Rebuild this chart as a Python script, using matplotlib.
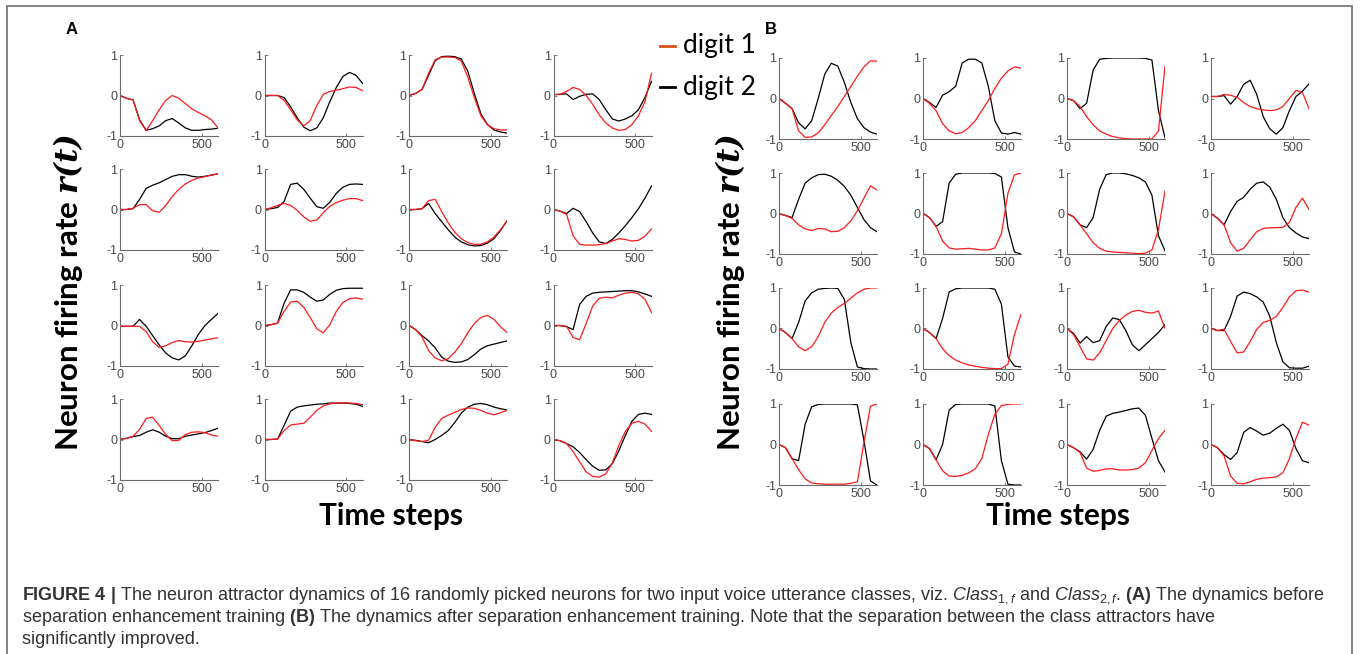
import matplotlib
matplotlib.use('Agg')
import matplotlib.pyplot as plt
from matplotlib import font_manager
from matplotlib.lines import Line2D
from matplotlib.patches import Rectangle

# time axis samples (every 40 steps)
steps = [0, 40, 80, 120, 160, 200, 240, 280, 320, 360, 400, 440, 480, 520, 560, 600]

# panel A (before training), 16 neurons row by row
a_digit1 = [
    [0.0, -0.07, -0.11, -0.62, -0.87, -0.62, -0.35, -0.12, 0.0, -0.07, -0.2, -0.33, -0.42, -0.5, -0.6, -0.8],
    [0.0, 0.0, 0.0, -0.12, -0.35, -0.6, -0.75, -0.62, -0.25, 0.03, 0.1, 0.13, 0.17, 0.21, 0.2, 0.12],
    [0.0, 0.05, 0.15, 0.55, 0.88, 0.95, 0.95, 0.94, 0.85, 0.45, -0.05, -0.5, -0.72, -0.82, -0.85, -0.85],
    [0.02, 0.03, 0.1, 0.2, 0.15, 0.0, -0.22, -0.48, -0.68, -0.8, -0.86, -0.84, -0.72, -0.5, -0.15, 0.55],
    [0.0, 0.0, 0.03, 0.12, 0.12, -0.03, -0.07, 0.1, 0.32, 0.5, 0.63, 0.72, 0.78, 0.81, 0.85, 0.88],
    [0.0, 0.04, 0.1, 0.15, 0.1, -0.02, -0.18, -0.29, -0.26, -0.08, 0.08, 0.17, 0.23, 0.27, 0.27, 0.22],
    [0.0, 0.0, 0.02, 0.22, 0.25, -0.05, -0.33, -0.56, -0.72, -0.82, -0.86, -0.86, -0.8, -0.68, -0.5, -0.28],
    [0.0, -0.04, -0.12, -0.65, -0.86, -0.88, -0.88, -0.87, -0.84, -0.78, -0.72, -0.74, -0.78, -0.76, -0.66, -0.48],
    [-0.02, -0.02, -0.02, -0.02, -0.15, -0.4, -0.54, -0.5, -0.42, -0.37, -0.4, -0.41, -0.39, -0.36, -0.33, -0.3],
    [0.0, 0.02, 0.06, 0.35, 0.58, 0.6, 0.45, 0.2, -0.08, -0.18, 0.02, 0.35, 0.57, 0.66, 0.68, 0.65],
    [0.0, -0.1, -0.28, -0.62, -0.8, -0.87, -0.82, -0.66, -0.45, -0.18, 0.05, 0.2, 0.25, 0.15, -0.03, -0.17],
    [0.0, 0.0, -0.02, -0.3, -0.35, 0.05, 0.48, 0.67, 0.7, 0.68, 0.75, 0.8, 0.82, 0.78, 0.65, 0.32],
    [0.0, 0.03, 0.08, 0.25, 0.52, 0.55, 0.35, 0.12, -0.03, -0.02, 0.12, 0.18, 0.19, 0.17, 0.11, 0.08],
    [0.0, 0.0, 0.01, 0.22, 0.36, 0.38, 0.4, 0.55, 0.72, 0.83, 0.88, 0.9, 0.91, 0.9, 0.89, 0.86],
    [0.0, -0.03, -0.05, -0.02, 0.3, 0.52, 0.6, 0.67, 0.74, 0.78, 0.77, 0.72, 0.65, 0.61, 0.66, 0.72],
    [0.0, -0.03, -0.1, -0.3, -0.55, -0.8, -0.91, -0.93, -0.85, -0.58, -0.15, 0.2, 0.4, 0.45, 0.38, 0.2],
]
a_digit2 = [
    [0.0, -0.07, -0.11, -0.6, -0.86, -0.82, -0.75, -0.62, -0.57, -0.68, -0.8, -0.86, -0.86, -0.84, -0.83, -0.81],
    [0.0, 0.0, 0.0, -0.05, -0.28, -0.55, -0.78, -0.87, -0.8, -0.55, -0.15, 0.2, 0.47, 0.57, 0.5, 0.3],
    [0.0, 0.05, 0.15, 0.5, 0.86, 0.96, 0.97, 0.96, 0.9, 0.6, 0.05, -0.45, -0.72, -0.85, -0.9, -0.93],
    [0.02, 0.03, 0.04, -0.1, -0.02, 0.03, 0.04, -0.1, -0.35, -0.58, -0.63, -0.58, -0.5, -0.35, -0.05, 0.35],
    [0.0, 0.0, 0.02, 0.25, 0.52, 0.6, 0.66, 0.74, 0.82, 0.86, 0.86, 0.82, 0.8, 0.82, 0.85, 0.88],
    [0.0, 0.02, 0.05, 0.2, 0.62, 0.65, 0.5, 0.28, 0.07, 0.03, 0.18, 0.4, 0.55, 0.62, 0.63, 0.62],
    [0.0, 0.0, 0.02, 0.15, -0.1, -0.3, -0.5, -0.68, -0.8, -0.87, -0.9, -0.89, -0.83, -0.72, -0.52, -0.28],
    [0.0, -0.04, -0.1, 0.03, -0.05, -0.3, -0.58, -0.8, -0.84, -0.74, -0.58, -0.4, -0.2, 0.02, 0.28, 0.58],
    [-0.02, -0.02, -0.02, 0.15, -0.02, -0.25, -0.48, -0.68, -0.8, -0.85, -0.75, -0.5, -0.22, 0.0, 0.15, 0.3],
    [0.0, 0.02, 0.06, 0.55, 0.88, 0.88, 0.82, 0.7, 0.6, 0.63, 0.77, 0.87, 0.91, 0.92, 0.92, 0.92],
    [0.0, -0.1, -0.25, -0.38, -0.55, -0.78, -0.88, -0.91, -0.9, -0.84, -0.72, -0.58, -0.5, -0.46, -0.42, -0.38],
    [0.0, 0.0, -0.03, -0.1, 0.52, 0.72, 0.8, 0.82, 0.83, 0.84, 0.85, 0.86, 0.86, 0.83, 0.78, 0.72],
    [0.0, 0.03, 0.07, 0.1, 0.18, 0.24, 0.18, 0.08, 0.02, 0.02, 0.08, 0.11, 0.14, 0.17, 0.22, 0.28],
    [0.0, 0.0, 0.01, 0.35, 0.7, 0.8, 0.83, 0.85, 0.87, 0.88, 0.9, 0.9, 0.9, 0.89, 0.87, 0.82],
    [0.0, -0.02, -0.05, -0.08, 0.0, 0.1, 0.22, 0.42, 0.65, 0.8, 0.87, 0.89, 0.86, 0.8, 0.76, 0.73],
    [0.0, -0.03, -0.1, -0.18, -0.32, -0.5, -0.66, -0.76, -0.75, -0.6, -0.28, 0.1, 0.45, 0.62, 0.65, 0.62],
]

# panel B (after training)
b_digit1 = [
    [0.0, -0.12, -0.25, -0.8, -0.96, -0.95, -0.85, -0.65, -0.42, -0.2, 0.05, 0.3, 0.55, 0.78, 0.93, 0.92],
    [0.0, -0.12, -0.3, -0.62, -0.8, -0.87, -0.84, -0.72, -0.55, -0.3, -0.05, 0.25, 0.5, 0.68, 0.78, 0.75],
    [0.0, -0.05, -0.2, -0.45, -0.65, -0.8, -0.88, -0.94, -0.97, -0.99, -1.0, -1.0, -1.0, -1.0, -0.8, 0.8],
    [0.05, 0.05, 0.1, 0.08, 0.03, -0.1, -0.2, -0.25, -0.28, -0.3, -0.28, -0.2, 0.0, 0.2, 0.15, -0.25],
    [0.0, -0.05, -0.12, -0.28, -0.38, -0.42, -0.37, -0.38, -0.45, -0.44, -0.35, -0.18, 0.07, 0.38, 0.68, 0.58],
    [0.0, -0.1, -0.32, -0.68, -0.85, -0.88, -0.87, -0.86, -0.88, -0.9, -0.9, -0.85, -0.5, 0.5, 0.95, 1.0],
    [0.0, -0.08, -0.28, -0.5, -0.72, -0.86, -0.93, -0.95, -0.96, -0.97, -0.98, -0.99, -0.98, -0.9, -0.4, 0.55],
    [0.0, -0.12, -0.28, -0.72, -0.93, -0.86, -0.65, -0.45, -0.37, -0.35, -0.35, -0.34, -0.22, 0.15, 0.38, 0.1],
    [0.0, -0.1, -0.25, -0.45, -0.55, -0.45, -0.2, 0.15, 0.38, 0.52, 0.62, 0.75, 0.88, 0.97, 1.0, 1.0],
    [0.0, -0.1, -0.25, -0.5, -0.67, -0.78, -0.85, -0.9, -0.93, -0.96, -0.98, -0.99, -0.99, -0.88, -0.15, 0.35],
    [0.0, -0.15, -0.45, -0.75, -0.78, -0.6, -0.3, 0.0, 0.2, 0.33, 0.42, 0.45, 0.4, 0.38, 0.43, 0.0],
    [0.0, -0.05, -0.02, -0.32, -0.6, -0.58, -0.32, -0.02, 0.15, 0.2, 0.3, 0.52, 0.78, 0.93, 0.95, 0.9],
    [0.0, -0.08, -0.35, -0.62, -0.85, -0.95, -0.97, -0.98, -0.98, -0.98, -0.98, -0.96, -0.92, 0.05, 0.95, 1.0],
    [0.0, -0.1, -0.38, -0.65, -0.78, -0.79, -0.76, -0.7, -0.6, -0.35, 0.25, 0.75, 0.96, 0.99, 1.0, 1.0],
    [0.0, -0.08, -0.2, -0.58, -0.66, -0.64, -0.6, -0.6, -0.63, -0.63, -0.62, -0.58, -0.45, -0.15, 0.15, 0.35],
    [0.0, -0.08, -0.28, -0.78, -0.96, -0.97, -0.92, -0.86, -0.83, -0.82, -0.8, -0.7, -0.35, 0.15, 0.55, 0.48],
]
b_digit2 = [
    [0.0, -0.12, -0.25, -0.6, -0.75, -0.55, 0.0, 0.6, 0.87, 0.8, 0.4, -0.1, -0.5, -0.72, -0.83, -0.88],
    [0.0, -0.1, -0.22, 0.08, 0.17, 0.3, 0.88, 0.97, 0.97, 0.88, 0.3, -0.55, -0.85, -0.88, -0.84, -0.88],
    [0.0, -0.05, -0.25, -0.12, 0.7, 0.97, 0.99, 1.0, 1.0, 1.0, 1.0, 1.0, 0.99, 0.95, -0.3, -0.97],
    [0.05, 0.05, 0.07, -0.14, 0.05, 0.35, 0.45, 0.1, -0.45, -0.75, -0.88, -0.72, -0.3, 0.05, 0.18, 0.36],
    [0.0, -0.05, -0.1, 0.35, 0.75, 0.88, 0.96, 0.97, 0.92, 0.82, 0.67, 0.45, 0.15, -0.15, -0.35, -0.45],
    [0.0, -0.1, -0.32, -0.2, 0.75, 0.97, 1.0, 1.0, 1.0, 1.0, 1.0, 0.99, 0.9, -0.35, -0.95, -1.0],
    [0.0, -0.08, -0.28, -0.35, -0.1, 0.6, 0.96, 1.0, 1.0, 0.98, 0.94, 0.88, 0.78, 0.45, -0.55, -0.92],
    [0.0, -0.12, -0.28, 0.05, 0.3, 0.4, 0.6, 0.75, 0.78, 0.65, 0.35, -0.1, -0.35, -0.48, -0.58, -0.62],
    [0.0, -0.1, -0.25, 0.15, 0.68, 0.88, 0.97, 0.99, 1.0, 0.99, 0.72, -0.35, -0.95, -0.99, -1.0, -1.0],
    [0.0, -0.1, -0.25, 0.25, 0.9, 0.98, 1.0, 1.0, 1.0, 1.0, 1.0, 0.97, 0.6, -0.7, -0.93, -0.95],
    [0.0, -0.12, -0.36, -0.2, -0.35, -0.3, 0.05, 0.26, 0.22, -0.05, -0.4, -0.55, -0.4, -0.25, -0.1, 0.1],
    [0.0, -0.05, -0.05, 0.3, 0.8, 0.9, 0.86, 0.78, 0.65, 0.3, -0.35, -0.82, -0.97, -0.98, -0.98, -0.93],
    [0.0, -0.08, -0.35, -0.4, 0.5, 0.93, 0.99, 1.0, 1.0, 1.0, 1.0, 1.0, 0.98, 0.1, -0.9, -1.0],
    [0.0, -0.1, -0.38, 0.0, 0.85, 0.99, 1.0, 1.0, 1.0, 1.0, 1.0, 0.95, -0.4, -0.98, -1.0, -1.0],
    [0.0, -0.08, -0.18, -0.36, -0.12, 0.35, 0.7, 0.77, 0.8, 0.84, 0.88, 0.9, 0.72, 0.15, -0.4, -0.68],
    [0.0, -0.08, -0.25, -0.37, -0.2, 0.3, 0.42, 0.33, 0.23, 0.28, 0.4, 0.5, 0.35, -0.1, -0.4, -0.45],
]

installed = {f.name for f in font_manager.fontManager.ttflist}
cap_font = 'Liberation Sans' if 'Liberation Sans' in installed else 'DejaVu Sans'
label_font = ['Lato', 'DejaVu Sans']

plt.rcParams['font.family'] = [cap_font, 'DejaVu Sans']
plt.rcParams['mathtext.fontset'] = 'custom'
plt.rcParams['mathtext.rm'] = cap_font
plt.rcParams['mathtext.it'] = cap_font + ':italic'
plt.rcParams['mathtext.bf'] = cap_font + ':bold'
plt.rcParams['mathtext.bfit'] = 'DejaVu Serif:italic:bold'

W, H = 1360, 654
fig = plt.figure(figsize=(W / 100, H / 100), dpi=100)

AX_W, AX_H = 98, 81
a_left = [120, 264.5, 409, 553.5]
a_top = [55, 169, 285, 399]
b_left = [779, 923, 1067, 1211]
b_top = [58, 173, 288, 404]

axis_col = '#6a6a6a'


def draw_panel(lefts, tops, red_curves, black_curves):
    for i in range(4):
        for j in range(4):
            k = i * 4 + j
            ax = fig.add_axes([lefts[j] / W, 1 - (tops[i] + AX_H) / H, AX_W / W, AX_H / H])
            ax.plot(steps, black_curves[k], color='black', lw=0.9)
            ax.plot(steps, red_curves[k], color='#ff1a1a', lw=0.9)
            ax.set_xlim(0, 600)
            ax.set_ylim(-1, 1)
            ax.set_xticks([0, 500])
            ax.set_yticks([-1, 0, 1])
            ax.set_yticklabels(['-1', '0', '1'])
            for s in ['top', 'right']:
                ax.spines[s].set_visible(False)
            for s in ['left', 'bottom']:
                ax.spines[s].set_color(axis_col)
                ax.spines[s].set_linewidth(0.8)
            ax.tick_params(direction='in', length=2.5, width=0.6, colors=axis_col,
                           labelcolor='#4a4a4a', labelsize=9, pad=2)
            ax.patch.set_alpha(0)


draw_panel(a_left, a_top, a_digit1, a_digit2)
draw_panel(b_left, b_top, b_digit1, b_digit2)

# panel letters
fig.text(72 / W, 1 - 30 / H, 'A', fontsize=12, fontweight='bold', ha='center', va='center')
fig.text(771 / W, 1 - 30 / H, 'B', fontsize=12, fontweight='bold', ha='center', va='center')

# axis titles
ylab = 'Neuron firing rate $\\mathbfit{r(t)}$'
for x in [68, 730]:
    fig.text(x / W, 1 - 292 / H, ylab, rotation=90, fontsize=22.5, fontweight='bold',
             family=label_font, ha='center', va='center')
for x in [391, 1058]:
    fig.text(x / W, 1 - 516 / H, 'Time steps', fontsize=21.5, fontweight='bold',
             family=label_font, ha='center', va='center')

# legend
for y, col, name in [(46, '#d95319', 'digit 1'), (87, 'black', 'digit 2')]:
    fig.add_artist(Line2D([660 / W, 675 / W], [1 - y / H, 1 - y / H], color=col, lw=2,
                          transform=fig.transFigure))
    fig.text(683 / W, 1 - y / H, name, fontsize=19, family=label_font, ha='left', va='center')

# frame
fig.add_artist(Rectangle((7 / W, -0.05), (1352 - 7) / W, 1.05 - 6 / H, fill=False,
                         edgecolor='#6e6e6e', lw=1.2, transform=fig.transFigure))

# caption
cap1 = ('$\\mathbf{FIGURE\\ 4\\ |}$ The neuron attractor dynamics of 16 randomly picked neurons '
        'for two input voice utterance classes, viz. $\\mathit{Class}_{1,f}$ and '
        '$\\mathit{Class}_{2,f}$. $\\mathbf{(A)}$ The dynamics before')
cap2 = ('separation enhancement training $\\mathbf{(B)}$ The dynamics after separation enhancement '
        'training. Note that the separation between the class attractors have')
cap3 = 'significantly improved.'
for y, txt in [(596, cap1), (618, cap2), (640, cap3)]:
    fig.text(22 / W, 1 - y / H, txt, fontsize=13, color='#333333', ha='left', va='center')

fig.savefig('out.png', dpi=100)
